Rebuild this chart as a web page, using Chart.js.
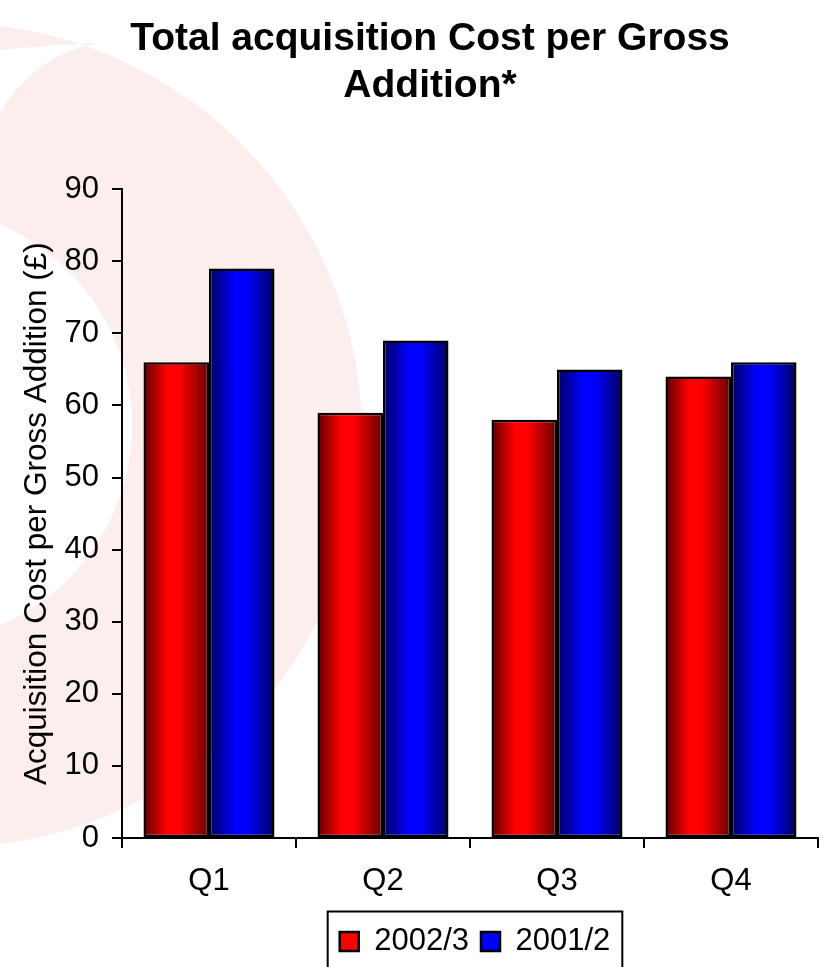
<!DOCTYPE html>
<html>
<head>
<meta charset="utf-8">
<title>Total acquisition Cost per Gross Addition</title>
<script src="https://cdn.jsdelivr.net/npm/chart.js@4.4.1/dist/chart.umd.min.js"></script>
<style>
    html, body { margin: 0; padding: 0; background: #fff; }
    #wrap { position: relative; width: 827px; height: 967px; }
</style>
</head>
<body>
<div id="wrap"><canvas id="costChart"></canvas></div>
<script>
// Datos
const quarters = ['Q1', 'Q2', 'Q3', 'Q4'];
const cost2002 = [66, 59, 58, 64];
const cost2001 = [79, 69, 65, 66];
const yMin = 0;
const yMax = 90;
const yStep = 10;

// Degradados horizontales de las barras (oscuro - vivo - oscuro)
const redStops = [[0, '#5e0000'], [0.36, '#ff0000'], [0.55, '#ff0000'], [1, '#660000']];
const blueStops = [[0, '#00005e'], [0.4, '#0000ff'], [0.58, '#0000ff'], [1, '#000060']];

Chart.defaults.font.family = "'Liberation Sans', Arial, sans-serif";
Chart.defaults.color = '#000';

// Fondo: la "coma" rosa de la plantilla
const swooshPlugin = {
    id: 'swoosh',
    beforeDraw(chart) {
        const c = chart.ctx;
        c.save();
        c.fillStyle = '#fff';
        c.fillRect(0, 0, chart.width, chart.height);
        c.beginPath();
        c.arc(-50, 435, 412, 0, Math.PI * 2);
        c.moveTo(132, 425);
        c.arc(-86, 425, 218, 0, Math.PI * 2);
        c.moveTo(0, 50);
        c.quadraticCurveTo(50, 45, 97, 43);
        c.quadraticCurveTo(35, 55, 0, 112);
        c.closePath();
        c.fillStyle = '#fdeeee';
        c.fill('evenodd');
        c.restore();
    }
};

// Relleno degradado de cada barra
const gradientPlugin = {
    id: 'barGradient',
    beforeDatasetsDraw(chart) {
        const c = chart.ctx;
        const stops = [redStops, blueStops];
        chart.data.datasets.forEach((ds, i) => {
            chart.getDatasetMeta(i).data.forEach(bar => {
                const left = bar.x - bar.width / 2;
                const g = c.createLinearGradient(left, 0, left + bar.width, 0);
                stops[i].forEach(s => g.addColorStop(s[0], s[1]));
                bar.options.backgroundColor = g;
            });
        });
    }
};

// Título y leyenda algo desplazados a la derecha, leyenda con marco
const blocksPlugin = {
    id: 'blocks',
    afterLayout(chart) {
        chart.titleBlock.left += 42;
        chart.legend.left += 132;
    },
    afterDraw(chart) {
        const boxes = chart.legend.legendHitBoxes;
        if (!boxes || !boxes.length) return;
        const left = Math.min(...boxes.map(b => b.left)) - 12;
        const right = Math.max(...boxes.map(b => b.left + b.width)) + 12;
        const mid = boxes[0].top + boxes[0].height / 2;
        const c = chart.ctx;
        c.save();
        c.strokeStyle = '#000';
        c.lineWidth = 2;
        c.strokeRect(left, mid - 30, right - left, chart.height - mid + 40);
        c.restore();
    }
};

const costCtx = document.getElementById('costChart').getContext('2d');
const costChart = new Chart(costCtx, {
    type: 'bar',
    data: {
        labels: quarters,
        datasets: [{
            label: '2002/3',
            data: cost2002,
            backgroundColor: () => '#ff0000'
        }, {
            label: '2001/2',
            data: cost2001,
            backgroundColor: () => '#0000ff'
        }]
    },
    options: {
        responsive: true,
        maintainAspectRatio: false,
        animation: false,
        layout: {
            padding: { left: 0, right: 9, top: 0, bottom: 0 }
        },
        datasets: {
            bar: {
                categoryPercentage: 0.753,
                barPercentage: 1,
                borderColor: '#000',
                borderWidth: 2.5,
                borderSkipped: false
            }
        },
        scales: {
            x: {
                grid: {
                    offset: true,
                    drawOnChartArea: false,
                    color: '#000',
                    lineWidth: 2,
                    tickLength: 10
                },
                border: { color: '#000', width: 2 },
                ticks: {
                    color: '#000',
                    font: { size: 31 },
                    padding: 15
                },
                afterFit: scale => { scale.height = 76; }
            },
            y: {
                min: yMin,
                max: yMax,
                grid: {
                    drawOnChartArea: false,
                    color: '#000',
                    lineWidth: 2,
                    tickLength: 10
                },
                border: { color: '#000', width: 2 },
                ticks: {
                    stepSize: yStep,
                    color: '#000',
                    font: { size: 31 },
                    padding: 13
                },
                title: {
                    display: true,
                    text: 'Acquisition Cost per Gross Addition (£)',
                    color: '#000',
                    font: { size: 31.5 },
                    padding: { top: 18, bottom: 0 }
                },
                afterFit: scale => { scale.width = 122; }
            }
        },
        plugins: {
            title: {
                display: true,
                text: ['Total acquisition Cost per Gross', 'Addition*'],
                color: '#000',
                font: { size: 39, weight: 'bold', lineHeight: 1.22 },
                padding: { top: 15, bottom: 79 }
            },
            legend: {
                position: 'bottom',
                labels: {
                    color: '#000',
                    font: { size: 31 },
                    boxWidth: 19,
                    boxHeight: 19,
                    padding: 12
                }
            },
            tooltip: { enabled: false }
        }
    },
    plugins: [swooshPlugin, gradientPlugin, blocksPlugin]
});
</script>
</body>
</html>
